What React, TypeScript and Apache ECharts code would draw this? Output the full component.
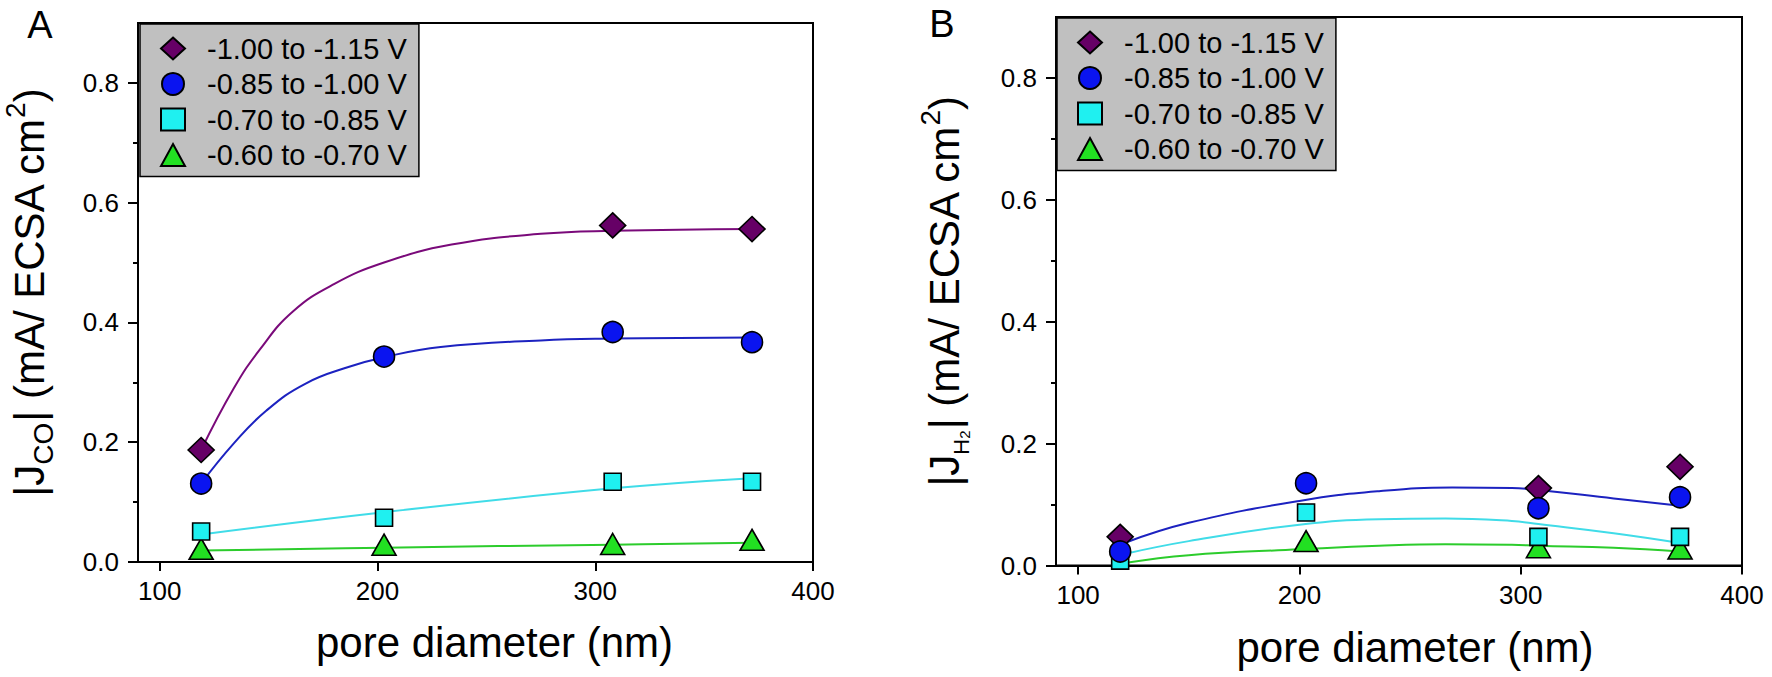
import React, { useEffect, useRef } from 'react';
import * as echarts from 'echarts';

// ---------- data ----------
const poreDiameters = [119, 203, 308, 372];
const seriesNames = ['-1.00 to -1.15 V', '-0.85 to -1.00 V', '-0.70 to -0.85 V', '-0.60 to -0.70 V'];

// Panel A: |J_CO|
const coDiamond = [0.187, null, 0.562, 0.556];
const coCircle = [0.131, 0.343, 0.384, 0.367];
const coSquare = [0.051, 0.074, 0.134, 0.134];
const coTriangle = [0.022, 0.029, 0.030, 0.037];

// Panel A fitted curves
const coFitPurpleX = [119, 134, 146, 161, 180, 203, 234, 275, 308, 372];
const coFitPurpleY = [0.187, 0.29, 0.355, 0.418, 0.464, 0.5, 0.53, 0.548, 0.553, 0.556];
const coFitBlueX = [119, 134, 149, 167, 187, 203, 229, 275, 308, 372];
const coFitBlueY = [0.131, 0.198, 0.253, 0.298, 0.326, 0.342, 0.359, 0.37, 0.373, 0.375];
const coFitCyanX = [119, 203, 308, 372];
const coFitCyanY = [0.046, 0.083, 0.123, 0.14];
const coFitGreenX = [119, 203, 308, 372];
const coFitGreenY = [0.019, 0.024, 0.029, 0.032];

// Panel B: |J_H2|
const hDiamond = [0.047, null, 0.127, 0.162];
const hCircle = [0.023, 0.135, 0.094, 0.112];
const hSquare = [0.008, 0.087, 0.047, 0.047];
const hTriangle = [null, 0.040, 0.030, 0.028];

// Panel B fitted curves
const hFitBlueX = [121, 150, 200, 236, 269, 296, 308, 342, 372];
const hFitBlueY = [0.037, 0.07, 0.106, 0.122, 0.128, 0.127, 0.124, 0.11, 0.098];
const hFitCyanX = [121, 150, 200, 236, 266, 296, 308, 342, 372];
const hFitCyanY = [0.019, 0.04, 0.067, 0.076, 0.077, 0.073, 0.068, 0.053, 0.037];
const hFitGreenX = [121, 150, 200, 236, 266, 296, 308, 342, 372];
const hFitGreenY = [0.004, 0.017, 0.0265, 0.0325, 0.035, 0.034, 0.0325, 0.029, 0.023];

// axes
const xTicks = [100, 200, 300, 400];
const yMajorTicks = [0, 0.2, 0.4, 0.6, 0.8];
const yMinorTicks = [0.1, 0.3, 0.5, 0.7];

// ---------- styles ----------
const FONT = 'Liberation Sans';
const markerColors = ['#660066', '#0a14f0', '#1ff0f0', '#22e022'];
const lineColors = ['#7a0a7a', '#1c22c0', '#40dce8', '#2ccc2c'];
const symbols = ['diamond', 'circle', 'rect', 'triangle'];
const symbolSizes: any[] = [[26, 25], 21, 17, [24, 21]];

const zip = (xs: number[], ys: (number | null)[]) =>
  xs.map((x, i) => [x, ys[i]]).filter((p) => p[1] !== null && p[1] !== undefined);

function scatter(idx: number, values: (number | null)[], panel: number) {
  return {
    type: 'scatter',
    name: seriesNames[idx],
    xAxisIndex: panel,
    yAxisIndex: panel * 2,
    symbol: symbols[idx],
    symbolSize: symbolSizes[idx],
    data: zip(poreDiameters, values),
    itemStyle: { color: markerColors[idx], borderColor: '#000', borderWidth: 1.6, opacity: 1 },
    z: 3,
  };
}

function fit(idx: number, xs: number[], ys: number[], panel: number) {
  return {
    type: 'line',
    name: 'fit ' + (panel === 0 ? 'A ' : 'B ') + seriesNames[idx],
    xAxisIndex: panel,
    yAxisIndex: panel * 2,
    data: zip(xs, ys),
    smooth: 0.45,
    symbol: 'none',
    showSymbol: false,
    silent: true,
    legendHoverLink: false,
    lineStyle: { color: lineColors[idx], width: 2 },
    z: 2,
  };
}

function xAxisFor(grid: number, gap: number, pad: number) {
  return {
    type: 'value',
    gridIndex: grid,
    position: 'bottom',
    min: 90,
    max: 400,
    axisLine: { show: true, onZero: false, lineStyle: { color: '#000', width: 2 } },
    axisTick: { show: true, length: 9, customValues: xTicks, lineStyle: { color: '#000', width: 2 } },
    axisLabel: { customValues: xTicks, fontSize: 26, fontFamily: FONT, color: '#000', margin: 16 },
    splitLine: { show: false },
    name: 'pore diameter (nm)',
    nameLocation: 'middle',
    nameGap: gap,
    nameTextStyle: { fontSize: 42, fontFamily: FONT, color: '#000', padding: [0, 0, 0, pad] },
  };
}

function yAxesFor(grid: number, name: string, gap: number, rich: any) {
  return [
    {
      type: 'value',
      gridIndex: grid,
      position: 'left',
      min: 0,
      max: 0.9,
      axisLine: { show: true, onZero: false, lineStyle: { color: '#000', width: 2 } },
      axisTick: { show: true, length: 10, customValues: yMajorTicks, lineStyle: { color: '#000', width: 2 } },
      axisLabel: {
        customValues: yMajorTicks,
        fontSize: 26,
        fontFamily: FONT,
        color: '#000',
        margin: 19,
        formatter: (v: number) => v.toFixed(1),
      },
      splitLine: { show: false },
      name,
      nameLocation: 'middle',
      nameGap: gap,
      nameTextStyle: { fontSize: 42, fontFamily: FONT, color: '#000', lineHeight: 56, rich },
    },
    {
      type: 'value',
      gridIndex: grid,
      position: 'left',
      offset: 0,
      min: 0,
      max: 0.9,
      axisLine: { show: false, onZero: false },
      axisTick: { show: true, length: 5, customValues: yMinorTicks, lineStyle: { color: '#000', width: 2 } },
      axisLabel: { show: false },
      splitLine: { show: false },
    },
  ];
}

function legendFor(left: number, top: number) {
  return {
    orient: 'vertical',
    left,
    top,
    data: seriesNames,
    selectedMode: false,
    backgroundColor: '#c0c0c0',
    borderColor: '#000',
    borderWidth: 1.5,
    borderRadius: 0,
    padding: [10, 12, 7, 20],
    itemWidth: 24,
    itemHeight: 22,
    itemGap: 6.5,
    textStyle: { fontSize: 29, fontFamily: FONT, color: '#000', padding: [0, 0, 0, 17] },
  };
}

const richA = {
  sub: { fontSize: 28, lineHeight: 28, verticalAlign: 'bottom', fontFamily: FONT, color: '#000' },
  sup: { fontSize: 28, lineHeight: 28, verticalAlign: 'top', fontFamily: FONT, color: '#000' },
};
const richB = {
  h: { fontSize: 22, lineHeight: 28, verticalAlign: 'bottom', fontFamily: FONT, color: '#000' },
  h2: { fontSize: 15, lineHeight: 20, verticalAlign: 'bottom', fontFamily: FONT, color: '#000' },
  sup: { fontSize: 28, lineHeight: 28, verticalAlign: 'top', fontFamily: FONT, color: '#000' },
};

export default function App() {
  const ref = useRef<HTMLDivElement>(null);

  useEffect(() => {
    if (!ref.current) return;
    const chart = echarts.init(ref.current, undefined, { renderer: 'svg' });
    const option: any = {
      animation: false,
      backgroundColor: '#fff',
      grid: [
        { left: 138, top: 23, width: 675, height: 539, show: true, borderColor: '#000', borderWidth: 2, backgroundColor: 'transparent' },
        { left: 1056, top: 17, width: 686, height: 548.5, show: true, borderColor: '#000', borderWidth: 2, backgroundColor: 'transparent' },
      ],
      xAxis: [xAxisFor(0, 59.5, 38), xAxisFor(1, 61, 32)],
      yAxis: [
        ...yAxesFor(0, '|J{sub|CO}| (mA/ ECSA cm{sup|2})', 81, richA),
        ...yAxesFor(1, '|J{h|H}{h2|2}| (mA/ ECSA cm{sup|2})', 84, richB),
      ],
      legend: [legendFor(140, 24), legendFor(1057, 18)],
      graphic: [
        {
          type: 'text',
          x: 40,
          y: 25,
          style: { text: 'A', fontSize: 38, fontFamily: FONT, fill: '#000', textAlign: 'center', textVerticalAlign: 'middle', verticalAlign: 'middle' },
        },
        {
          type: 'text',
          x: 942,
          y: 24,
          style: { text: 'B', fontSize: 38, fontFamily: FONT, fill: '#000', textAlign: 'center', textVerticalAlign: 'middle', verticalAlign: 'middle' },
        },
      ],
      series: [
        fit(0, coFitPurpleX, coFitPurpleY, 0),
        fit(1, coFitBlueX, coFitBlueY, 0),
        fit(2, coFitCyanX, coFitCyanY, 0),
        fit(3, coFitGreenX, coFitGreenY, 0),
        scatter(0, coDiamond, 0),
        scatter(3, coTriangle, 0),
        scatter(2, coSquare, 0),
        scatter(1, coCircle, 0),
        fit(1, hFitBlueX, hFitBlueY, 1),
        fit(2, hFitCyanX, hFitCyanY, 1),
        fit(3, hFitGreenX, hFitGreenY, 1),
        scatter(0, hDiamond, 1),
        scatter(3, hTriangle, 1),
        scatter(2, hSquare, 1),
        scatter(1, hCircle, 1),
      ],
    };
    chart.setOption(option);
    return () => chart.dispose();
  }, []);

  return (
    <div
      ref={ref}
      style={{ position: 'fixed', left: 0, top: 0, width: 1772, height: 677, background: '#fff' }}
    />
  );
}
